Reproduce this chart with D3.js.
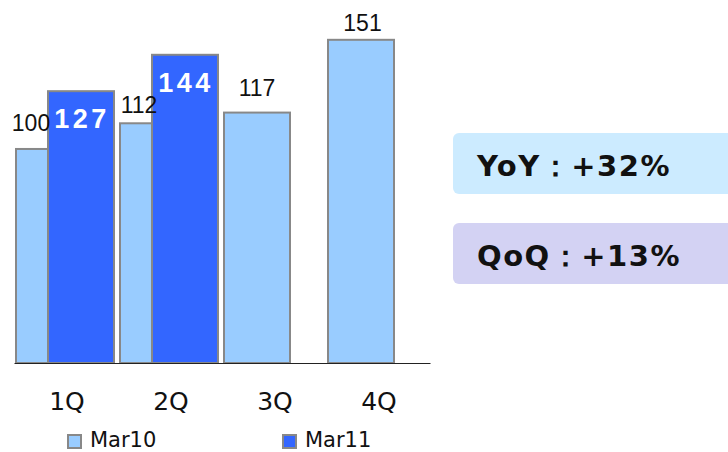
<!DOCTYPE html>
<html>
<head>
<meta charset="utf-8">
<script src="https://cdn.jsdelivr.net/npm/d3@7"></script>
<style>
  html, body { margin: 0; padding: 0; background: #fff; }
  svg { display: block; }
</style>
</head>
<body>
<svg id="chart" width="728" height="452"></svg>
<script>
// Quarterly index values, fiscal years ending March 2010 and March 2011
const quarters = ["1Q", "2Q", "3Q", "4Q"];
const mar10 = [100, 112, 117, 151];
const mar11 = [127, 144, null, null];
const seriesNames = ["Mar10", "Mar11"];
const seriesColors = ["#99CCFF", "#3366FF"];

// Headline growth rates
const growthLabels = ["YoY：+32%", "QoQ：+13%"];
const growthFills = ["#CCEBFF", "#D3D2F3"];

// Hand-placed nudges for the Mar10 value labels (dx, gap above bar)
const labelNudge = [[-18, 18], [-14, 10], [0, 17], [1.5, 9]];

const svg = d3.select("#chart");

const x = d3.scaleBand().domain(quarters).range([14, 430]).paddingInner(0).paddingOuter(0);
const y = d3.scaleLinear().domain([0, 169.6]).range([363, 0]);

const bw = x.bandwidth();          // 104
const barW = bw * 66 / 104;        // bar width
const inset = 2;                   // left inset within band
const shift = bw * 32 / 104;       // Mar11 offset, overlapping Mar10

// Mar10 bars
svg.append("g").selectAll("rect")
  .data(quarters.map((q, i) => ({ q, v: mar10[i] })))
  .join("rect")
  .attr("x", d => x(d.q) + inset)
  .attr("y", d => y(d.v))
  .attr("width", barW)
  .attr("height", d => y(0) - y(d.v))
  .attr("fill", seriesColors[0])
  .attr("stroke", "#888")
  .attr("stroke-width", 2);

// Mar11 bars drawn on top
svg.append("g").selectAll("rect")
  .data(quarters.map((q, i) => ({ q, v: mar11[i] })).filter(d => d.v != null))
  .join("rect")
  .attr("x", d => x(d.q) + inset + shift)
  .attr("y", d => y(d.v))
  .attr("width", barW)
  .attr("height", d => y(0) - y(d.v))
  .attr("fill", seriesColors[1])
  .attr("stroke", "#888")
  .attr("stroke-width", 2);

// Baseline axis with category labels
const axis = d3.axisBottom(x).tickSize(0).tickPadding(0);
const gx = svg.append("g").attr("transform", `translate(0,${y(0)})`).call(axis);
gx.select(".domain").attr("stroke", "#222").attr("stroke-width", 1.2);
gx.selectAll(".tick text")
  .attr("font-family", "'DejaVu Sans', Verdana, sans-serif")
  .attr("font-size", 25)
  .attr("fill", "#111")
  .attr("dy", 0)
  .attr("y", 47)
  .attr("dx", 1);

// Mar10 value labels
svg.append("g").selectAll("text")
  .data(quarters.map((q, i) => ({ q, v: mar10[i], n: labelNudge[i] })))
  .join("text")
  .attr("x", d => x(d.q) + inset + barW / 2 + d.n[0])
  .attr("y", d => y(d.v) - d.n[1])
  .attr("text-anchor", "middle")
  .attr("font-family", "'Liberation Sans', Arial, sans-serif")
  .attr("font-size", 23)
  .attr("fill", "#111")
  .text(d => d.v);

// Mar11 value labels, inside the bars
svg.append("g").selectAll("text")
  .data(quarters.map((q, i) => ({ q, v: mar11[i] })).filter(d => d.v != null))
  .join("text")
  .attr("x", d => x(d.q) + inset + shift + barW / 2 + 1)
  .attr("y", d => y(d.v) + 37)
  .attr("text-anchor", "middle")
  .attr("font-family", "'Liberation Sans', Arial, sans-serif")
  .attr("font-weight", "bold")
  .attr("font-size", 27)
  .attr("letter-spacing", 3.5)
  .attr("fill", "#fff")
  .text(d => d.v);

// Legend
const legendX = [67, 282];
const legend = svg.append("g").selectAll("g")
  .data(seriesNames.map((n, i) => ({ n, c: seriesColors[i], x: legendX[i] })))
  .join("g")
  .attr("transform", d => `translate(${d.x},434)`);
legend.append("rect")
  .attr("x", 1).attr("y", 1)
  .attr("width", 13).attr("height", 13)
  .attr("fill", d => d.c)
  .attr("stroke", "#888")
  .attr("stroke-width", 2);
legend.append("text")
  .attr("x", 23).attr("y", 13)
  .attr("font-family", "'DejaVu Sans', Verdana, sans-serif")
  .attr("font-size", 21)
  .attr("fill", "#111")
  .text(d => d.n);

// Growth callouts
const boxY = [133, 223];
const callouts = svg.append("g").selectAll("g")
  .data(growthLabels.map((t, i) => ({ t, f: growthFills[i], y: boxY[i] })))
  .join("g");
callouts.append("rect")
  .attr("x", 453).attr("y", d => d.y)
  .attr("width", 290).attr("height", 61)
  .attr("rx", 6)
  .attr("fill", d => d.f);
callouts.append("text")
  .attr("x", 477).attr("y", d => d.y + 43)
  .attr("font-family", "'DejaVu Sans', Verdana, sans-serif")
  .attr("font-weight", "bold")
  .attr("font-size", 29)
  .attr("letter-spacing", 1.5)
  .attr("fill", "#111")
  .text(d => d.t);
</script>
</body>
</html>
